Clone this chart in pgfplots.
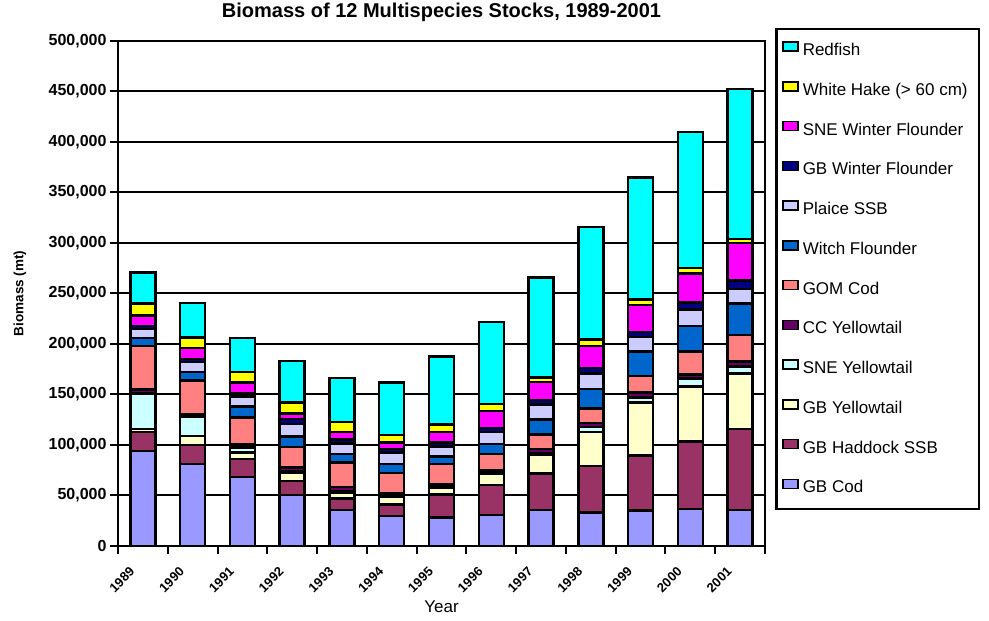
\documentclass[border=0pt]{standalone}
\usepackage{fontspec}
\setmainfont{Liberation Sans}
\usepackage{pgfplots}
\usepackage{pgfplotstable}
\pgfplotsset{compat=1.18}
\definecolor{cCod}{HTML}{9999FF}
\definecolor{cHad}{HTML}{993366}
\definecolor{cGBYT}{HTML}{FFFFCC}
\definecolor{cSNEYT}{HTML}{CCFFFF}
\definecolor{cCCYT}{HTML}{660066}
\definecolor{cGOM}{HTML}{FF8080}
\definecolor{cWitch}{HTML}{0066CC}
\definecolor{cPlaice}{HTML}{CCCCFF}
\definecolor{cGBWF}{HTML}{000080}
\definecolor{cSNEWF}{HTML}{FF00FF}
\definecolor{cWH}{HTML}{FFFF00}
\definecolor{cRed}{HTML}{00FFFF}
\pgfplotstableread{
x  year cod   had   gbyt  sneyt ccyt gom   witch plaice gbwf snewf wh    red
0  1989 94000 19000 3000  35000 4000 43000 8000  9000   3000 10000 12000 31000
1  1990 81000 19000 9000  19000 2500 33500 8500  9500   3000 11000 10500 34000
2  1991 68500 17500 6500  5000  3000 26500 11000 10000  3000 11000 10500 33500
3  1992 50500 14000 8000  1500  3500 20500 10500 12500  4500 5500  11000 41000
4  1993 35500 11500 6000  1000  4500 24000 8500  10500  4000 7500  10000 43500
5  1994 29500 11500 7500  1000  2500 20500 8500  11500  3500 6500  7500  52000
6  1995 28000 23000 6500  1000  2500 20000 7500  10000  4000 10500 7500  67000
7  1996 30500 30000 11500 1000  2000 16000 10000 12000  4000 16500 7000  81500
8  1997 35500 36500 18000 2000  4000 14500 14500 15000  4500 18000 4500  99000
9  1998 33000 46000 34000 5000  4000 14000 19500 15500  5000 22000 6500  111500
10 1999 35000 54500 52500 5000  5000 16500 24000 14500  5000 26500 5500  121000
11 2000 36500 67000 54500 8000  4000 22500 25500 16000  7000 29000 5000  135000
12 2001 35500 80500 55000 6500  5000 26500 31000 14500  8500 37000 4000  148500
}\biomass
\begin{document}
\begin{tikzpicture}
\begin{axis}[
  at={(0,0)}, anchor=south west,
  scale only axis, width=647pt, height=505pt,
  ybar stacked, bar width=25pt,
  xmin=-0.5, xmax=12.5, ymin=0, ymax=500000,
  ytick={0,50000,100000,150000,200000,250000,300000,350000,400000,450000,500000},
  scaled y ticks=false,
  xtick={-0.5,0.5,...,12.5}, xticklabels={},
  extra x ticks={0,1,2,3,4,5,6,7,8,9,10,11,12},
  extra x tick labels={1989,1990,1991,1992,1993,1994,1995,1996,1997,1998,1999,2000,2001},
  extra x tick style={major tick length=0pt},
  tick pos=left, tick align=outside, major tick length=8pt,
  tick style={black, line width=2pt},
  axis line style={black, line width=2.5pt},
  ymajorgrids, major grid style={black, line width=2pt},
  yticklabel style={font=\fontsize{16}{16}\selectfont\bfseries,
    /pgf/number format/.cd, fixed, 1000 sep={,}, assume math mode=true},
  xticklabel style={font=\fontsize{13}{13}\selectfont\bfseries, xshift=-14pt, yshift=-20pt, rotate=45, anchor=north east, inner sep=0pt},
  title={Biomass of 12 Multispecies Stocks, 1989-2001},
  title style={font=\fontsize{20}{20}\selectfont\bfseries, at={(0.5,1)}, anchor=center, yshift=23pt},
  xlabel={Year},
  xlabel style={font=\fontsize{17}{17}\selectfont, at={(axis description cs:0.5,0)}, anchor=center, yshift=-61pt},
  ylabel={Biomass (mt)},
  ylabel style={font=\fontsize{13.5}{13.5}\selectfont\bfseries, at={(axis description cs:-0.1515,0.5)}, anchor=center},
  every axis plot/.append style={draw=black, line width=2.5pt},
  legend image code/.code={\draw[#1, line width=1.5pt] (0pt,0pt) rectangle (15pt,9pt);},
  reverse legend,
  legend cell align=left,
  legend style={at={(1,1)}, anchor=north west, xshift=10pt, yshift=13pt,
    draw=black, line width=2.5pt, inner xsep=6pt, inner ysep=12pt,
    row sep=21.5pt, column sep=4pt, font=\fontsize{17}{17}\selectfont,
    nodes={inner sep=0pt, text height=13pt, text depth=4pt}},
]
\addplot[fill=cCod] table[x=x, y=cod] {\biomass};
\addlegendentry{\makebox[170pt][l]{GB Cod}}
\addplot[fill=cHad] table[x=x, y=had] {\biomass};
\addlegendentry{GB Haddock SSB}
\addplot[fill=cGBYT] table[x=x, y=gbyt] {\biomass};
\addlegendentry{GB Yellowtail}
\addplot[fill=cSNEYT] table[x=x, y=sneyt] {\biomass};
\addlegendentry{SNE Yellowtail}
\addplot[fill=cCCYT] table[x=x, y=ccyt] {\biomass};
\addlegendentry{CC Yellowtail}
\addplot[fill=cGOM] table[x=x, y=gom] {\biomass};
\addlegendentry{GOM Cod}
\addplot[fill=cWitch] table[x=x, y=witch] {\biomass};
\addlegendentry{Witch Flounder}
\addplot[fill=cPlaice] table[x=x, y=plaice] {\biomass};
\addlegendentry{Plaice SSB}
\addplot[fill=cGBWF] table[x=x, y=gbwf] {\biomass};
\addlegendentry{GB Winter Flounder}
\addplot[fill=cSNEWF] table[x=x, y=snewf] {\biomass};
\addlegendentry{SNE Winter Flounder}
\addplot[fill=cWH] table[x=x, y=wh] {\biomass};
\addlegendentry{White Hake (> 60 cm)}
\addplot[fill=cRed] table[x=x, y=red] {\biomass};
\addlegendentry{Redfish}
\end{axis}
\pgfresetboundingbox
\useasboundingbox (-118pt,-75pt) rectangle (871pt,546pt);
\end{tikzpicture}
\end{document}
